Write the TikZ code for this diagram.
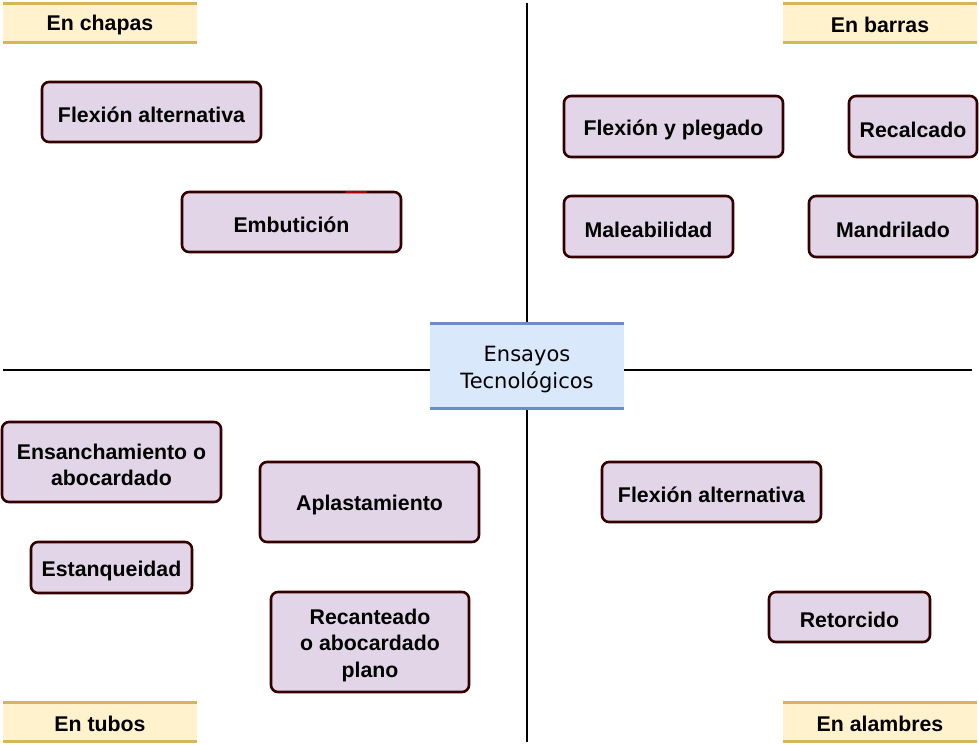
\documentclass[tikz,border=0pt]{standalone}
\usepackage{fontspec}
\setmainfont{Liberation Sans}
\newfontfamily\centerfont{DejaVu Sans}
\definecolor{boxfill}{HTML}{E1D5E7}
\definecolor{boxline}{HTML}{330000}
\definecolor{tagfill}{HTML}{FFF2CC}
\definecolor{tagline}{HTML}{D6B656}
\definecolor{cfill}{HTML}{DAE8FC}
\definecolor{cline}{HTML}{6C8EBF}
\begin{document}
\begin{tikzpicture}[x=1pt,y=-1pt,
  testbox/.style={draw=boxline, fill=boxfill, line width=2.6pt, rounded corners=7pt, inner sep=0pt},
  testtext/.style={font=\fontsize{21.3}{26.5}\selectfont\bfseries, align=center, inner sep=0pt},
  tagtext/.style={font=\fontsize{21.3}{26}\selectfont\bfseries, inner sep=0pt},
  axis/.style={line width=1.4pt, black}]
\useasboundingbox (0,0) rectangle (979,744);

% corner tags
\newcommand{\tagbox}[6]{%
  \fill[tagfill] (#1,#2) rectangle (#3,#4);
  \draw[tagline, line width=3pt] (#1,#2+1.5) -- (#3,#2+1.5);
  \draw[tagline, line width=3pt] (#1,#4-1.5) -- (#3,#4-1.5);
  \node[tagtext] (#6) at ({(#1+#3)/2},{(#2+#4)/2+2}) {#5};}
\tagbox{3}{2}{197}{44}{En chapas}{tch}
\tagbox{783}{2}{977}{44}{En barras}{tba}
\tagbox{3}{701}{197}{743}{En tubos}{ttu}
\tagbox{783}{701}{977}{743}{En alambres}{tal}

% center
\node[fill=cfill, minimum width=194pt, minimum height=88pt, inner sep=0pt] (c) at (527,366) {};
\node[font=\centerfont\fontsize{21}{27}\selectfont, align=center, inner sep=0pt] (ct) at (527,370) {Ensayos\\Tecnológicos};
\draw[cline, line width=3pt] ([yshift=-1.5pt]c.north west) -- ([yshift=-1.5pt]c.north east);
\draw[cline, line width=3pt] ([yshift=1.5pt]c.south west) -- ([yshift=1.5pt]c.south east);

\coordinate (top) at (527,3);
\coordinate (bot) at (527,742);
\coordinate (lft) at (3,370);
\coordinate (rgt) at (972,370);
\draw[axis] (top) -- (c.north);
\draw[axis] (c.south) -- (bot);
\draw[axis] (lft) -- (c.west |- lft);
\draw[axis] (c.east |- rgt) -- (rgt);

% boxes: name, x, y, w, h, text
\newcommand{\tbox}[6]{%
  \node[testbox, minimum width=#4pt, minimum height=#5pt] (#1) at (#2,#3) {};
  \node[testtext] (#1t) at (#2,#3+3) {#6};}
\tbox{fa1}{151.5}{112}{219}{60}{Flexión alternativa}
\tbox{emb}{291.5}{222}{219}{60}{Embutición}
\draw[red!70!black, line width=2pt] (346,192) -- (366,192);
\tbox{fyp}{673.5}{126.5}{219}{61}{Flexión y plegado}
\tbox{rec}{913}{126.5}{128}{61}{Recalcado}
\tbox{mal}{648.5}{226.5}{169}{61}{Maleabilidad}
\tbox{man}{893}{226.5}{168}{61}{Mandrilado}
\tbox{ens}{111.5}{462}{219}{80}{Ensanchamiento o\\abocardado}
\tbox{apl}{369.5}{502}{219}{80}{Aplastamiento}
\tbox{est}{111.5}{567.5}{161}{51}{Estanqueidad}
\tbox{rca}{370}{642}{198}{100}{Recanteado\\o abocardado\\plano}
\tbox{fa2}{711.5}{492}{219}{60}{Flexión alternativa}
\tbox{ret}{849.5}{617}{161}{50}{Retorcido}
\end{tikzpicture}
\end{document}
